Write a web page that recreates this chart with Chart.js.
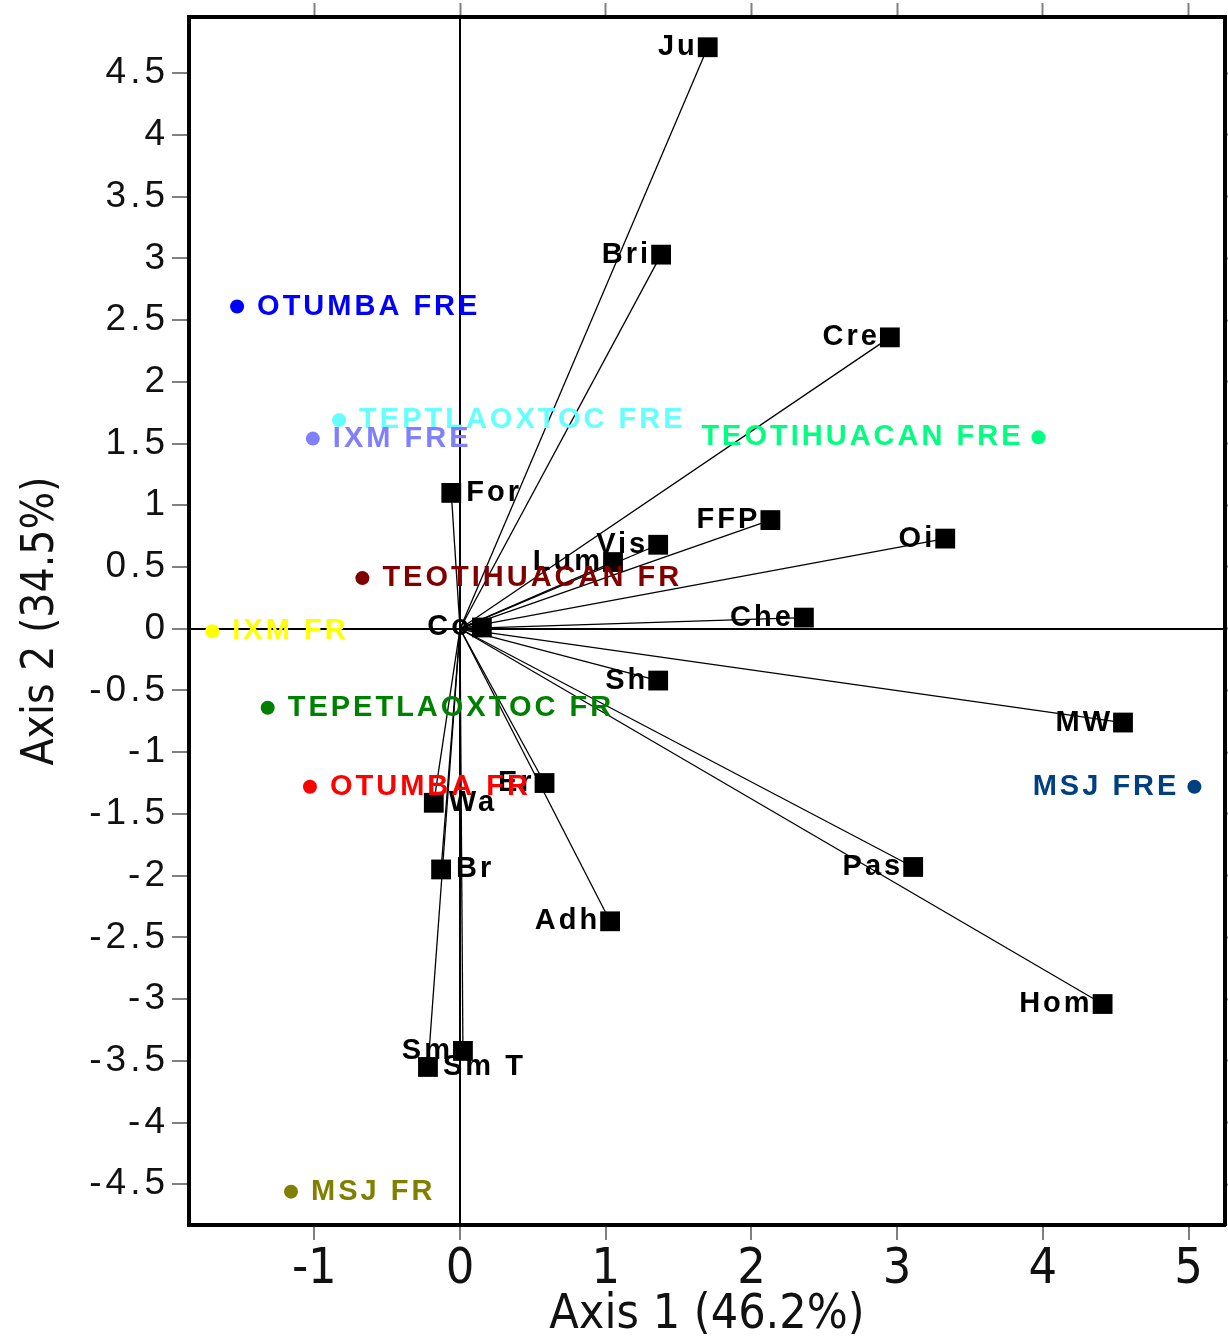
<!DOCTYPE html>
<html>
<head>
<meta charset="utf-8">
<script src="https://cdn.jsdelivr.net/npm/chart.js@4.4.1/dist/chart.umd.min.js"></script>
<style>
  html, body { margin: 0; padding: 0; background: #fff; overflow: hidden; }
  #wrap { width: 1228px; height: 1340px; }
  canvas { display: block; }
</style>
</head>
<body>
<div id="wrap"><canvas id="biplot"></canvas></div>
<script>
// variables (black squares, joined to the origin)
var varNames = ['Ju', 'Bri', 'Cre', 'FFP', 'Oi', 'Vis', 'Lum', 'Che', 'Co', 'For',
                'Sh', 'MW', 'Pas', 'Hom', 'Adh', 'Er', 'Wa', 'Br', 'Sm', 'Sm T'];
var varAxis1 = [1.70, 1.38, 2.95, 2.13, 3.33, 1.36, 1.05, 2.36, 0.15, -0.06,
                1.36, 4.55, 3.11, 4.41, 1.03, 0.58, -0.18, -0.13, 0.02, -0.22];
var varAxis2 = [4.71, 3.03, 2.36, 0.88, 0.73, 0.68, 0.54, 0.09, 0.01, 1.10,
                -0.42, -0.76, -1.93, -3.04, -2.37, -1.25, -1.41, -1.95, -3.42, -3.55];
var varLabelSide = ['L', 'L', 'L', 'L', 'L', 'L', 'L', 'L', 'L', 'R',
                    'L', 'L', 'L', 'L', 'L', 'L', 'R', 'R', 'L', 'R'];

// sites (coloured dots)
var siteNames = ['OTUMBA FRE', 'TEPTLAOXTOC FRE', 'IXM FRE', 'TEOTIHUACAN FRE', 'TEOTIHUACAN FR',
                 'IXM FR', 'TEPETLAOXTOC FR', 'OTUMBA FR', 'MSJ FRE', 'MSJ FR'];
var siteAxis1 = [-1.53, -0.83, -1.01, 3.97, -0.67, -1.70, -1.32, -1.03, 5.04, -1.16];
var siteAxis2 = [2.61, 1.69, 1.54, 1.55, 0.41, -0.02, -0.64, -1.28, -1.28, -4.56];
var siteColors = ['#0000ff', '#66ffff', '#8080ff', '#00ff80', '#800000',
                  '#ffff00', '#008000', '#ff0000', '#004080', '#808000'];
var siteLabelSide = ['R', 'R', 'R', 'L', 'R', 'R', 'R', 'R', 'L', 'R'];

// axes
var xTicks = [-1, 0, 1, 2, 3, 4, 5];
var yTicks = [-4.5, -4, -3.5, -3, -2.5, -2, -1.5, -1, -0.5, 0, 0.5, 1, 1.5, 2, 2.5, 3, 3.5, 4, 4.5];
var xMin = -1.86, xMax = 5.25;
var yMin = -4.83, yMax = 4.955;

var narrow = '"Liberation Sans Narrow", "DejaVu Sans Condensed", "Liberation Sans", Arial, sans-serif';
var labelFont = 'bold 29px "Liberation Sans", Arial, sans-serif';

var datasets = [];
for (var i = 0; i < varNames.length; i++) {
	datasets.push({
		data: [{x: 0, y: 0}, {x: varAxis1[i], y: varAxis2[i]}],
		showLine: true,
		borderColor: '#000',
		borderWidth: 1.3,
		pointRadius: 0,
		order: 3
	});
}
datasets.push({
	label: 'variables',
	data: varNames.map(function (n, i) { return {x: varAxis1[i], y: varAxis2[i]}; }),
	pointStyle: 'rect',
	pointRadius: 14,
	backgroundColor: '#000',
	borderWidth: 0,
	order: 2
});
datasets.push({
	label: 'sites',
	data: siteNames.map(function (n, i) { return {x: siteAxis1[i], y: siteAxis2[i]}; }),
	pointRadius: 7,
	backgroundColor: siteColors,
	borderWidth: 0,
	order: 1
});

// text next to the marks, placed through the scales
var pointLabels = {
	id: 'pointLabels',
	afterDatasetsDraw: function (chart) {
		var ctx = chart.ctx, sx = chart.scales.x, sy = chart.scales.y;
		ctx.save();
		ctx.font = labelFont;
		ctx.letterSpacing = '3px';
		ctx.textBaseline = 'middle';
		ctx.fillStyle = '#000';
		varNames.forEach(function (n, i) {
			var px = sx.getPixelForValue(varAxis1[i]), py = sy.getPixelForValue(varAxis2[i]);
			if (varLabelSide[i] === 'L') { ctx.textAlign = 'right'; ctx.fillText(n, px - 10, py); }
			else { ctx.textAlign = 'left'; ctx.fillText(n, px + 15, py); }
		});
		siteNames.forEach(function (n, i) {
			var px = sx.getPixelForValue(siteAxis1[i]), py = sy.getPixelForValue(siteAxis2[i]);
			ctx.fillStyle = siteColors[i];
			if (siteLabelSide[i] === 'L') { ctx.textAlign = 'right'; ctx.fillText(n, px - 15, py); }
			else { ctx.textAlign = 'left'; ctx.fillText(n, px + 20, py); }
		});
		ctx.restore();
		// y tick labels (drawn next) are spaced out like the original
		ctx.letterSpacing = '4px';
	},
	afterDraw: function (chart) {
		chart.ctx.letterSpacing = '0px';
	}
};

function zeroLine(c) {
	return c.tick && c.tick.value === 0 ? '#000' : 'rgba(0,0,0,0)';
}
function fixSize(prop, size) {
	return function (s) {
		s[prop] = size;
		s.paddingTop = 0; s.paddingBottom = 0; s.paddingLeft = 0; s.paddingRight = 0;
	};
}
function plainLabel(v) { return String(v); }

var config = {
	type: 'scatter',
	data: { datasets: datasets },
	options: {
		responsive: true,
		maintainAspectRatio: false,
		animation: false,
		layout: { autoPadding: false, padding: { top: 3, left: 0, right: 0, bottom: 0 } },
		plugins: {
			legend: { display: false },
			tooltip: { enabled: false }
		},
		scales: {
			x: {
				type: 'linear', position: 'bottom', min: xMin, max: xMax,
				afterBuildTicks: function (s) { s.ticks = xTicks.map(function (v) { return {value: v}; }); },
				afterFit: fixSize('height', 115),
				grid: { color: zeroLine, lineWidth: 2, tickColor: '#808080', tickWidth: 2, tickLength: 15 },
				border: { display: true, color: '#000', width: 4 },
				ticks: { color: '#111', padding: 0, font: { family: narrow, size: 50 }, maxRotation: 0, callback: plainLabel },
				title: { display: true, text: 'Axis 1 (46.2%)', color: '#111',
					font: { family: narrow, size: 48, lineHeight: 1 }, padding: { top: 0, bottom: 0 } }
			},
			x2: {
				type: 'linear', position: 'top', min: xMin, max: xMax,
				afterBuildTicks: function (s) { s.ticks = xTicks.map(function (v) { return {value: v}; }); },
				afterFit: fixSize('height', 14),
				grid: { drawOnChartArea: false, tickColor: '#808080', tickWidth: 2, tickLength: 14 },
				border: { display: true, color: '#000', width: 4 },
				ticks: { display: false }
			},
			y: {
				type: 'linear', position: 'left', min: yMin, max: yMax,
				afterBuildTicks: function (s) { s.ticks = yTicks.map(function (v) { return {value: v}; }); },
				afterFit: fixSize('width', 189),
				grid: { color: zeroLine, lineWidth: 2, tickColor: '#808080', tickWidth: 2, tickLength: 17 },
				border: { display: true, color: '#000', width: 4 },
				ticks: { color: '#111', padding: 3, z: 1, callback: plainLabel,
					font: { family: '"Liberation Sans", Arial, sans-serif', size: 37 } },
				title: { display: true, text: 'Axis 2 (34.5%)', color: '#111',
					font: { family: narrow, size: 44, lineHeight: 1 }, padding: { top: 20, bottom: 0 } }
			},
			y2: {
				type: 'linear', position: 'right', min: yMin, max: yMax,
				afterBuildTicks: function (s) { s.ticks = yTicks.map(function (v) { return {value: v}; }); },
				afterFit: fixSize('width', 3),
				grid: { drawOnChartArea: false, tickColor: '#808080', tickWidth: 2, tickLength: 3 },
				border: { display: true, color: '#000', width: 4 },
				ticks: { display: false }
			}
		}
	},
	plugins: [pointLabels]
};

var biplot = new Chart(document.getElementById('biplot').getContext('2d'), config);
</script>
</body>
</html>
